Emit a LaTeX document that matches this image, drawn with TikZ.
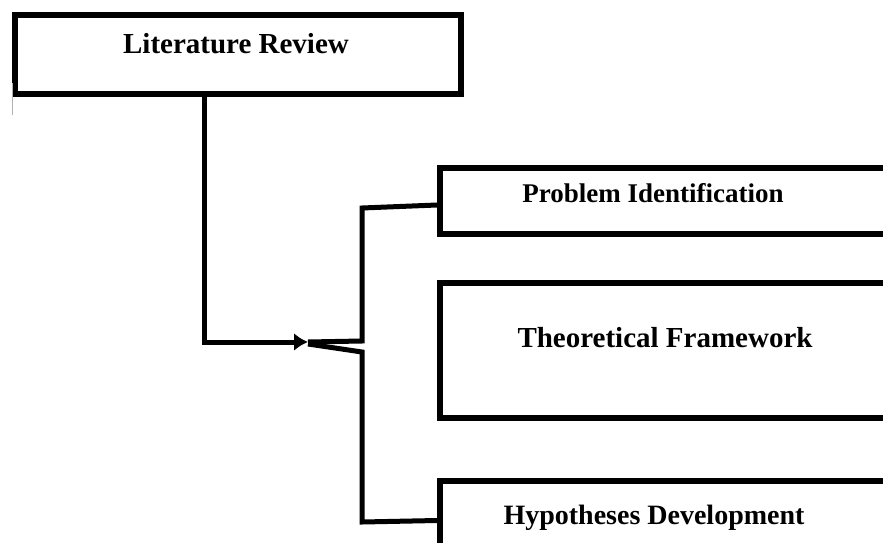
\documentclass[tikz,border=0pt]{standalone}
\usepackage{fontspec}
\setmainfont{Liberation Serif}
\usetikzlibrary{arrows.meta}
\begin{document}
\begin{tikzpicture}[x=1pt,y=-1pt,
  box/.style={draw,line width=6pt,rectangle,inner sep=0pt},
  caption/.style={anchor=base,inner sep=0pt,font=\fontsize{#1}{#1}\selectfont\bfseries},
  caption/.default=27,
  conn/.style={line width=5pt,line join=miter}]
\useasboundingbox (0,0) rectangle (883,543);
\clip (0,0) rectangle (883,543);
\fill[white] (0,0) rectangle (883,543);

% boxes (the three on the right run past the page edge)
\node[box,minimum width=446pt,minimum height=79pt] (lr) at (238,54.5) {};
\node[box,minimum width=460pt,minimum height=66pt] (pi) at (670,201) {};
\node[box,minimum width=460pt,minimum height=135pt] (tf) at (670,350.5) {};
\node[box,minimum width=460pt,minimum height=89pt] (hd) at (670,525.5) {};

% captions
\node[caption=29] (lrt) at (236,53) {Literature Review};
\node[caption=27] (pit) at (653,202) {Problem Identification};
\node[caption=29] (tft) at (665,347) {Theoretical Framework};
\node[caption=28] (hdt) at (654,524) {Hypotheses Development};

% small grey tick at the left margin
\draw[gray!60,line width=0.8pt] (12,83) -- (12,115);

% connectors
\coordinate (drop) at (204,0);
\coordinate (tip) at (308,342);
\coordinate (upcorner) at (362,341);
\coordinate (uptop) at (362,208);
\coordinate (lowcorner) at (362,352);
\coordinate (lowbot) at (362,522);

\draw[conn,-{Latex[length=14pt,width=18pt]}] (drop |- lr.south) |- (tip);
\draw[conn] (tip) -- (upcorner) -- (uptop) -- ([yshift=-4pt]pi.west);
\draw[conn] ([yshift=-2pt]tip) -- (lowcorner) -- (lowbot) -- ([yshift=5pt]hd.west);
\end{tikzpicture}
\end{document}
